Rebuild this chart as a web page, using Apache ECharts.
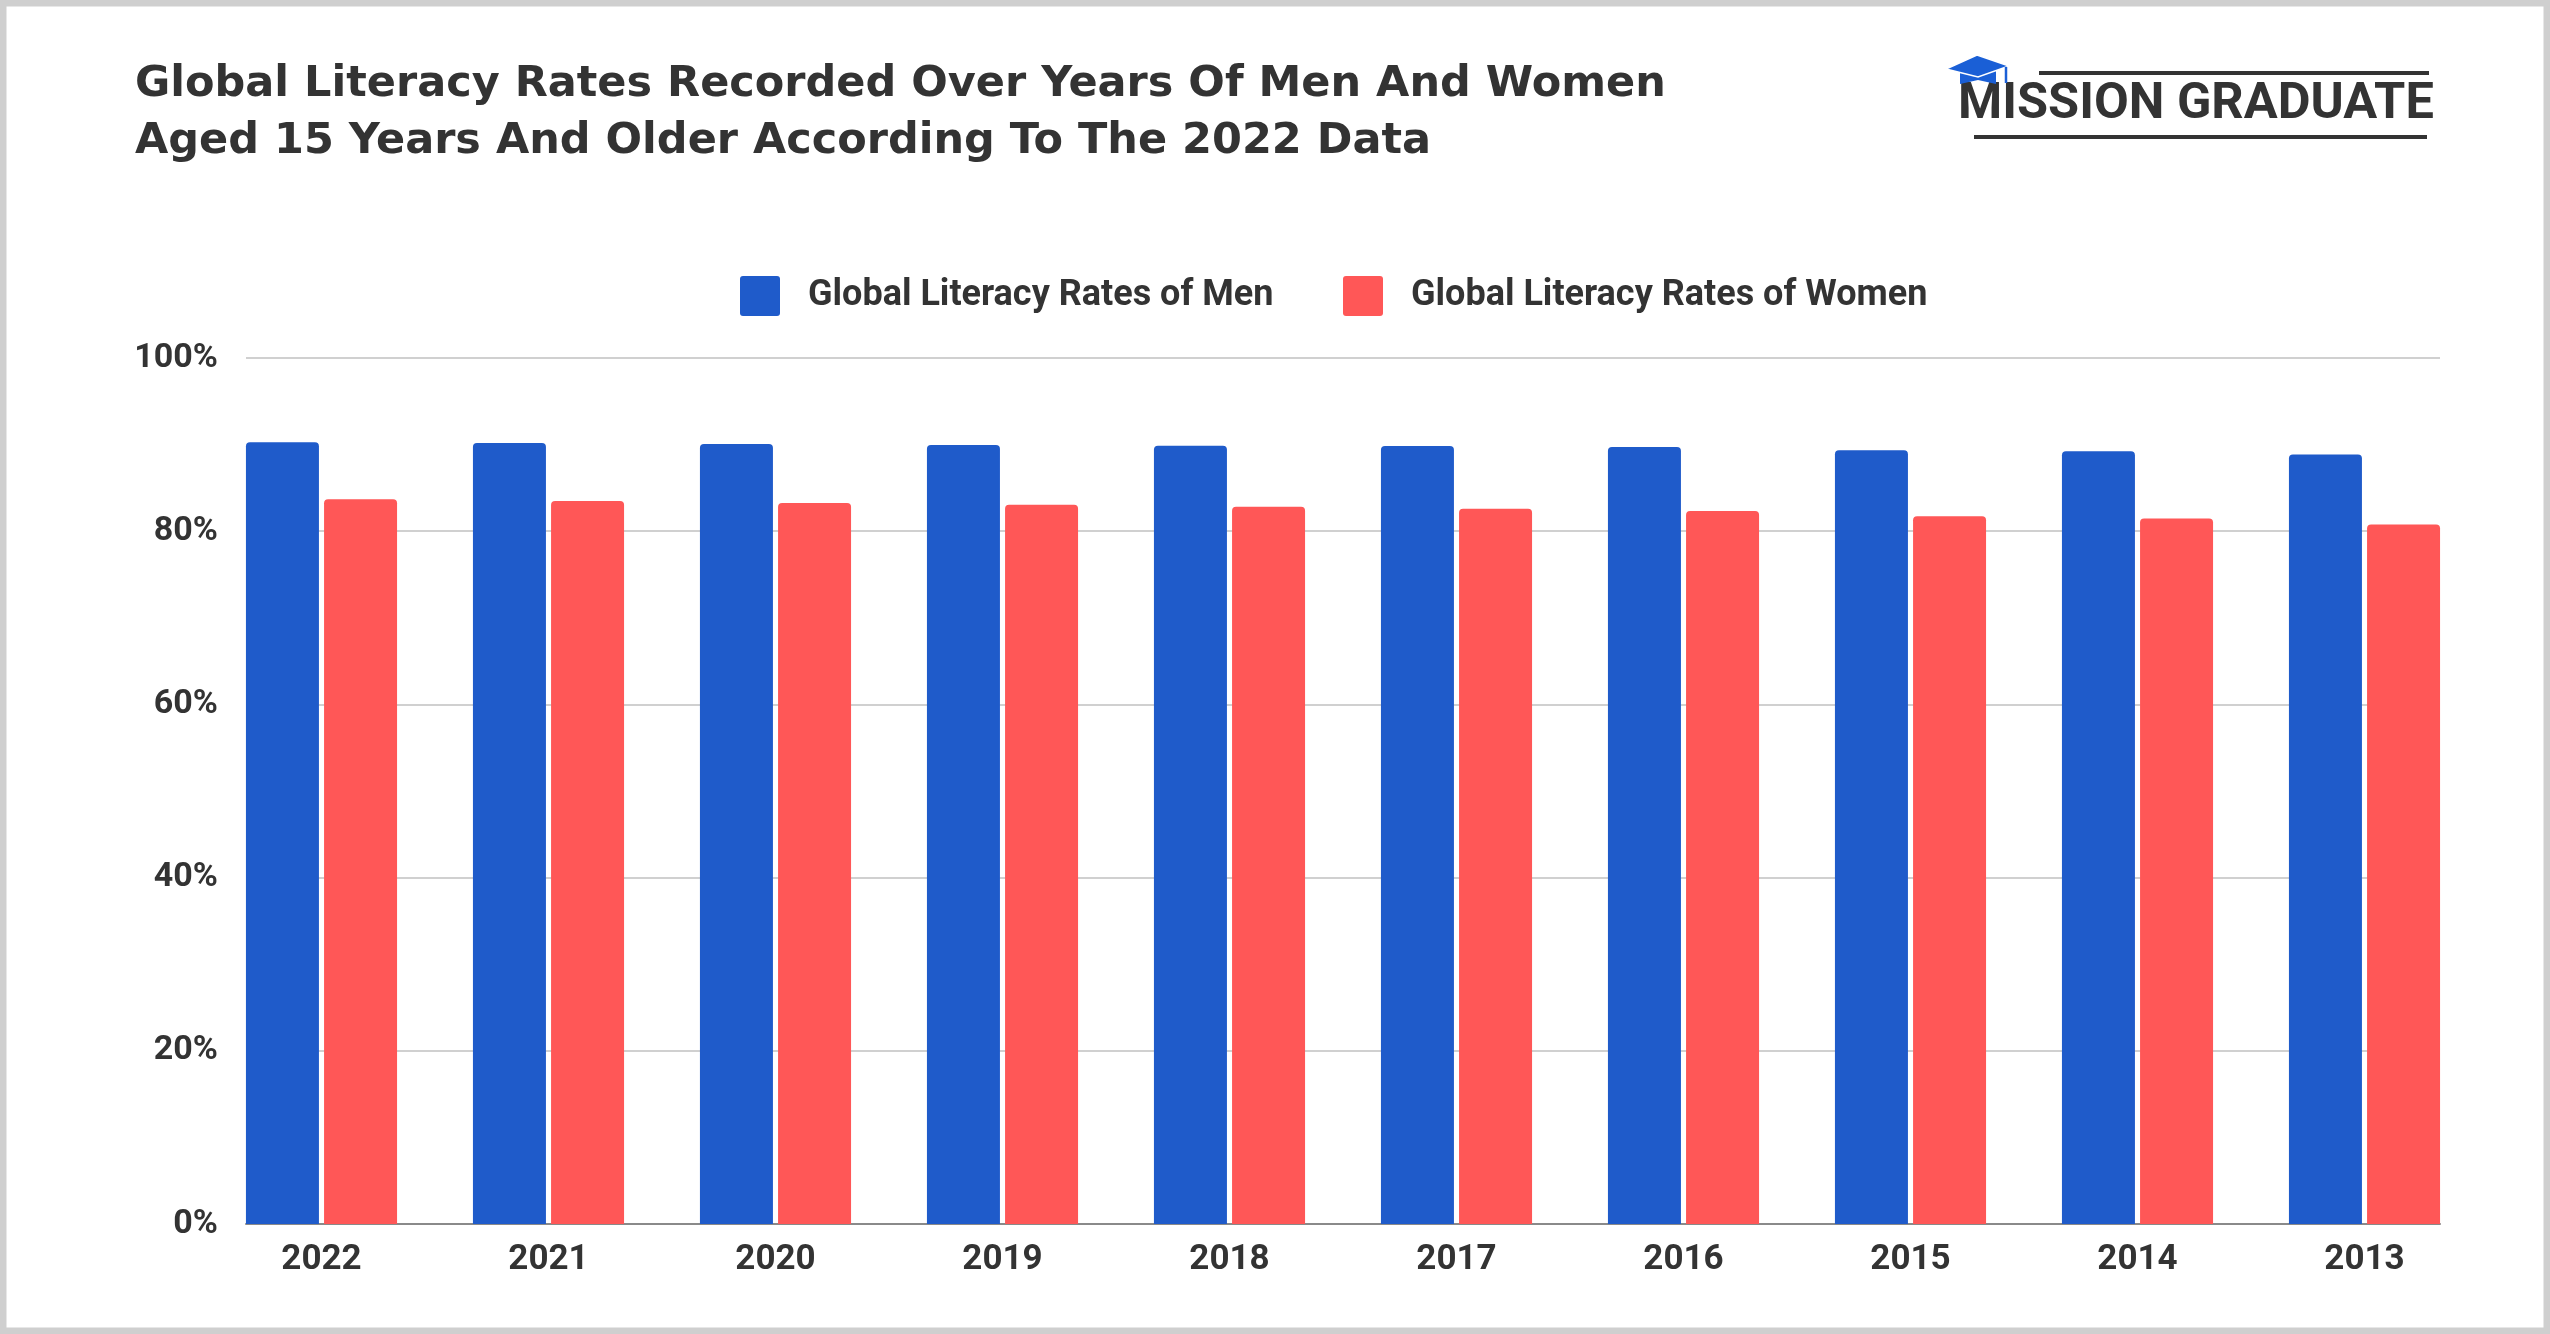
<!DOCTYPE html>
<html>
<head>
<meta charset="utf-8">
<script src="https://cdn.jsdelivr.net/npm/echarts@6/dist/echarts.min.js"></script>
<style>
html,body{margin:0;padding:0;background:#fff;}
#c{width:2550px;height:1334px;}
</style>
</head>
<body>
<div id="c"></div>
<script>
const years = ['2022','2021','2020','2019','2018','2017','2016','2015','2014','2013'];
const menRates = [90.27, 90.19, 90.08, 89.96, 89.88, 89.85, 89.73, 89.35, 89.23, 88.85];
const womenRates = [83.70, 83.50, 83.27, 83.04, 82.81, 82.60, 82.33, 81.73, 81.46, 80.77];
const seriesNames = ['Global Literacy Rates of Men', 'Global Literacy Rates of Women'];
const yTicks = [0, 20, 40, 60, 80, 100];

const BLUE = '#1f5bca';
const RED = '#ff5757';
const TXT = '#333333';
const FONT = 'Roboto';
const ICON = 'path://M3,0 H37 Q40,0 40,3 V37 Q40,40 37,40 H3 Q0,40 0,37 V3 Q0,0 3,0 Z';

const chart = echarts.init(document.getElementById('c'), null, {renderer: 'canvas'});
chart.setOption({
  animation: false,
  backgroundColor: '#ffffff',
  title: {
    text: 'Global Literacy Rates Recorded Over Years Of Men And Women\nAged 15 Years And Older According To The 2022 Data',
    left: 135, top: 56, padding: 0,
    textStyle: {fontFamily: 'DejaVu Sans', fontWeight: 'bold', fontSize: 43, lineHeight: 57, color: TXT}
  },
  legend: [
    {data: [seriesNames[0]], left: 740, top: 276, padding: 0, itemWidth: 40, itemHeight: 40, icon: ICON,
     textStyle: {fontFamily: FONT, fontWeight: 'bold', fontSize: 36, color: TXT, padding: [0,0,0,23]}},
    {data: [seriesNames[1]], left: 1343, top: 276, padding: 0, itemWidth: 40, itemHeight: 40, icon: ICON,
     textStyle: {fontFamily: FONT, fontWeight: 'bold', fontSize: 36, color: TXT, padding: [0,0,0,23]}}
  ],
  grid: [
    {left: 208, width: 2270, top: 358, bottom: 110, containLabel: false},
    {left: 246, right: 110, top: 358, bottom: 110, containLabel: false}
  ],
  xAxis: [
    {type: 'category', gridIndex: 0, data: years, boundaryGap: true,
     axisLine: {show: false}, axisTick: {show: false},
     axisLabel: {fontFamily: FONT, fontWeight: 'bold', fontSize: 35, color: TXT, margin: 19}},
    {type: 'value', gridIndex: 1, min: 0, max: 1, show: true,
     axisLine: {show: true, onZero: false, lineStyle: {color: '#8a8a8a', width: 2}},
     axisTick: {show: false}, axisLabel: {show: false}, splitLine: {show: false}}
  ],
  yAxis: [
    {type: 'value', gridIndex: 0, min: 0, max: 100, interval: 20, show: false, splitLine: {show: false}},
    {type: 'value', gridIndex: 1, min: yTicks[0], max: yTicks[yTicks.length-1], interval: 20,
     axisLine: {show: false}, axisTick: {show: false},
     axisLabel: {fontFamily: FONT, fontWeight: 'bold', fontSize: 34, color: TXT, margin: 28, formatter: v => v + '%'},
     splitLine: {show: true, lineStyle: {color: '#d0d0d0', width: 2}}}
  ],
  series: [
    {name: seriesNames[0], type: 'bar', xAxisIndex: 0, yAxisIndex: 0, data: menRates,
     barWidth: 73, barGap: '7%', itemStyle: {color: BLUE, borderRadius: [4,4,0,0]}, z: 3},
    {name: seriesNames[1], type: 'bar', xAxisIndex: 0, yAxisIndex: 0, data: womenRates,
     barWidth: 73, barGap: '7%', itemStyle: {color: RED, borderRadius: [4,4,0,0]}, z: 3}
  ],
  graphic: [
    {type: 'rect', shape: {x: 0, y: 0, width: 2550, height: 1334}, style: {fill: 'none', stroke: '#cfcfcf', lineWidth: 13}, z: 100, silent: true},
    {type: 'line', shape: {x1: 2039, y1: 73, x2: 2429, y2: 73}, style: {stroke: '#333333', lineWidth: 4}},
    {type: 'line', shape: {x1: 1974, y1: 137, x2: 2427, y2: 137}, style: {stroke: '#333333', lineWidth: 4}},
    {type: 'text', left: 1958, top: 80, style: {text: 'MISSION GRADUATE', fontFamily: FONT, fontWeight: 'bold', fontSize: 50.5, fill: '#333333'}},
    {type: 'polygon', shape: {points: [[1960,68],[1996,68],[1996,84],[1978,80],[1960,84]]}, style: {fill: '#1a5fd6'}},
    {type: 'polygon', shape: {points: [[1946,69],[1977,55],[2009,66],[1978,77]]}, style: {fill: '#1a5fd6', stroke: '#ffffff', lineWidth: 1.5}},
    {type: 'line', shape: {x1: 2006, y1: 67, x2: 2006, y2: 83}, style: {stroke: '#1a5fd6', lineWidth: 2.5}}
  ]
});
</script>
</body>
</html>
